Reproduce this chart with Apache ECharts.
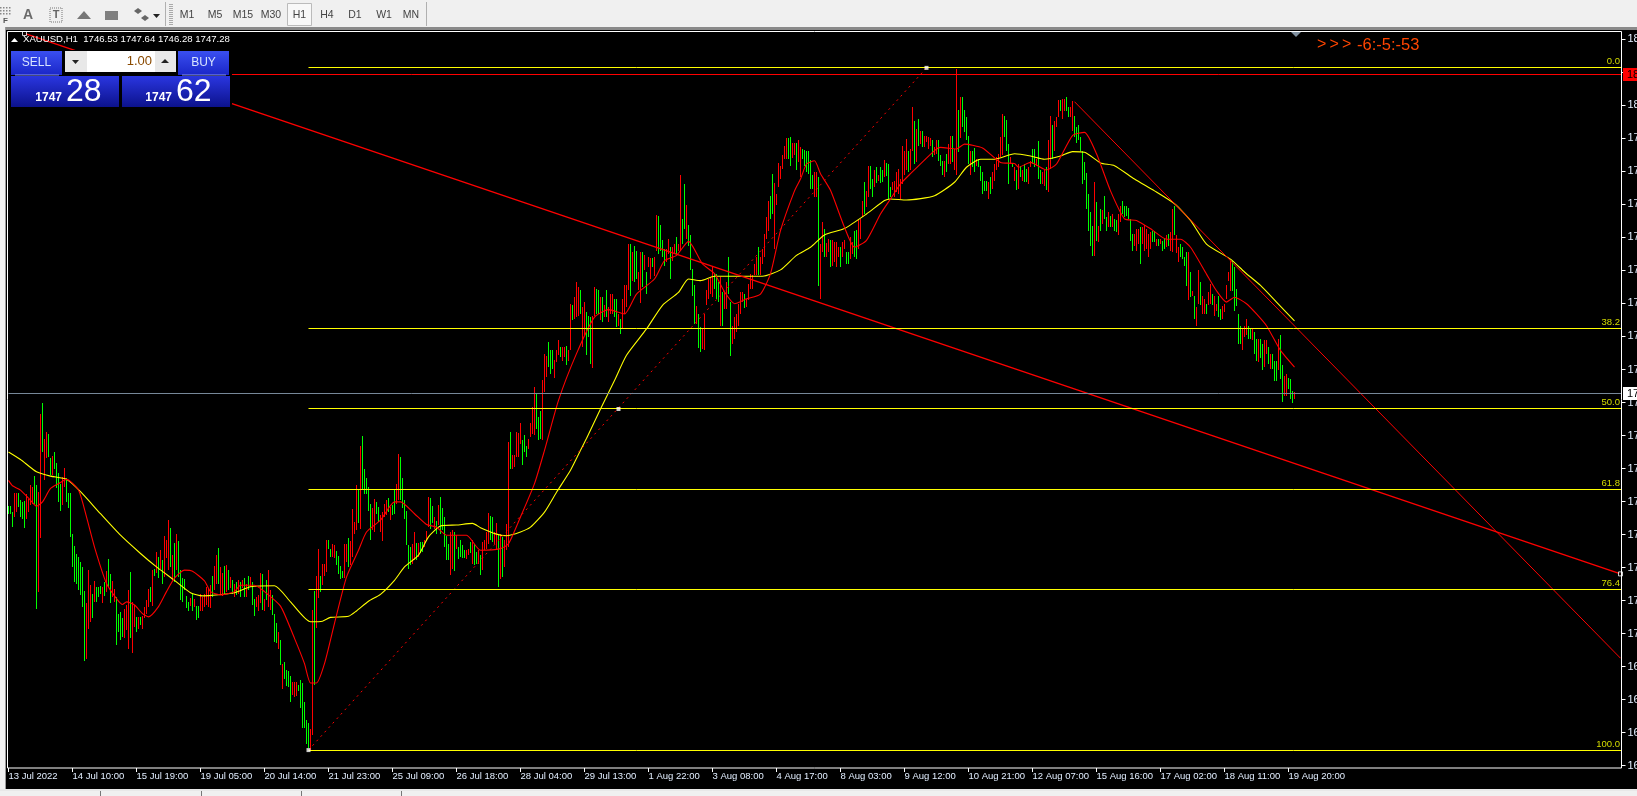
<!DOCTYPE html>
<html><head><meta charset="utf-8">
<style>html,body{margin:0;padding:0;background:#000;overflow:hidden}#c{width:1637px;height:796px}</style>
<script src="https://cdn.jsdelivr.net/npm/echarts@6/dist/echarts.min.js"></script>
</head><body><div id="c"></div>
<script>
const timeLabels=["13 Jul 2022","14 Jul 10:00","15 Jul 19:00","19 Jul 05:00","20 Jul 14:00","21 Jul 23:00","25 Jul 09:00","26 Jul 18:00","28 Jul 04:00","29 Jul 13:00","1 Aug 22:00","3 Aug 08:00","4 Aug 17:00","8 Aug 03:00","9 Aug 12:00","10 Aug 21:00","12 Aug 07:00","15 Aug 16:00","17 Aug 02:00","18 Aug 11:00","19 Aug 20:00"];
const priceTickLabels=["16","16","16","16","17","17","17","17","17","17","17","17","17","17","17","17","17","17","17","17","18","","18"];
const highs=[
1726.3,1726.3,1725.3,1728.7,1728.8,1728.8,1727.4,1727.1,1727.3,1728.5,
1727.7,1730.2,1729.8,1731.9,1730.3,1729,1743.4,1745.5,1738.9,1740.1,
1739.8,1735.2,1735.6,1736.3,1734.4,1732.4,1730.5,1731.8,1733.5,1731.5,
1728.7,1728.8,1721.2,1718.9,1717.4,1716.9,1715.9,1715,1710.5,1708.2,
1714.4,1711.6,1709.9,1712.4,1711.2,1711.3,1711.4,1711.3,1712.2,1714.2,
1716.4,1713.7,1712.4,1710.9,1709.4,1706.3,1706.6,1705.4,1707.1,1708,
1710.7,1714.1,1708.5,1707.9,1705.7,1705.6,1705.7,1705.8,1707.5,1708.9,
1710.9,1711.2,1714.4,1714.7,1717.7,1716.9,1718.2,1716.3,1720.7,1720,
1723.8,1722.2,1717.2,1719.5,1721.2,1719.8,1714.4,1712.9,1712.7,1709.6,
1708.5,1709.3,1710,1709.1,1707.7,1707.7,1709.9,1709.4,1709.9,1711.2,
1711,1711.6,1713.3,1715.2,1717.2,1718.6,1715,1713.8,1715.1,1715.3,
1714.4,1713.2,1712.5,1711.9,1712.2,1712.5,1712.2,1712.5,1712.9,1711.9,
1713.3,1713.2,1712.2,1709.1,1709.4,1709.7,1713.8,1713.7,1709.1,1712.5,
1714.4,1710.7,1709.7,1706.3,1704.5,1702.9,1701.4,1697,1697.3,1695.8,
1695.7,1694.7,1693.6,1693.6,1693.6,1693,1693.9,1693.3,1689.9,1686.5,
1686,1684.9,1707,1710.5,1713.3,1718.3,1713.4,1715.5,1715.6,1720,
1720.1,1718.3,1719.3,1719,1718,1717,1715.2,1714.3,1719.3,1719.3,
1720.3,1719.8,1725.7,1723.4,1730.2,1729.3,1737.5,1739.3,1733.2,1731.6,
1729.8,1726.7,1725.9,1727.6,1727.1,1726.2,1724.6,1725.2,1726.8,1727.5,
1727.9,1726.2,1726.5,1729.3,1730.4,1736.1,1735.5,1731.6,1727.4,1725.4,
1719,1718.7,1719.2,1721.5,1719.5,1719.5,1719.7,1719.7,1720,1721.7,
1728.1,1727.8,1726.3,1724.3,1723.6,1726.5,1728,1725.9,1724.3,1720.7,
1719.3,1721.5,1721.8,1721.5,1720.9,1718.7,1720.1,1719,1718.1,1718.1,
1718.4,1719.7,1720,1719.3,1717.8,1718.1,1717.2,1719.7,1720,1721.5,
1725.1,1724.4,1724.2,1721.5,1723.1,1721.2,1721.2,1720.6,1720,1722.9,
1738.3,1740.2,1735.9,1735.8,1740.1,1739.9,1741.7,1738.6,1739.5,1737.5,
1738.9,1741.8,1744.8,1748.4,1747.1,1742.9,1744.1,1749.8,1754.7,1754.2,
1756.8,1755.4,1755.3,1753.6,1755.4,1757.2,1755.9,1755.9,1755.9,1756.2,
1755.3,1764,1763.7,1765.2,1768,1767.1,1766.5,1763.4,1764.3,1762.4,
1761.8,1761.5,1761.8,1767.1,1766.8,1766.5,1765.2,1765.2,1763.7,1766.5,
1763.4,1765.8,1765.8,1764.9,1764.9,1762.1,1761.2,1764.9,1767.4,1767.4,
1775.1,1775.1,1773.6,1774.8,1773.9,1769.9,1773.6,1773.6,1773,1769.9,
1772.7,1772.5,1772.5,1772.7,1780.6,1780.3,1778.7,1775.8,1774.2,1774.2,
1776.1,1774.5,1774.5,1775.1,1776.4,1775.1,1788,1779.8,1786.3,1782.3,
1778.6,1776.7,1770.5,1767.4,1763.5,1762,1759.6,1759.3,1762.1,1766.5,
1768.6,1768.9,1770.8,1769.7,1769.6,1768,1768.9,1766.2,1766.2,1768,
1772.7,1764.3,1759.9,1761.5,1762.1,1764,1766.2,1766.2,1765.8,1764.9,
1767.7,1769.6,1769.3,1771.4,1772.7,1774.5,1772.7,1774.2,1777,1780.2,
1783.2,1784.1,1788.2,1786.4,1784.4,1790.1,1789.7,1791.6,1793.4,1794.9,
1794.9,1795,1794,1794,1794,1794.5,1793.2,1792.8,1792.6,1792.5,
1792.5,1790.8,1788,1788.5,1788.5,1787.5,1775.1,1779.2,1777.9,1775.3,
1776.1,1775.9,1775.8,1775.4,1775.4,1774.5,1774.5,1775.4,1775.8,1773.6,
1773.6,1776.4,1775.4,1777.6,1777.8,1779.5,1779.8,1783.2,1786.6,1784.9,
1789.7,1789.7,1787.2,1788.8,1789.5,1787.9,1789.4,1788.8,1790.8,1790.2,
1790,1785.7,1786.6,1786.9,1788.5,1789.1,1787.2,1793.4,1792.5,1794.7,
1792.5,1792.8,1800.6,1798.1,1796.5,1798.3,1796.2,1796.2,1795.3,1795.3,
1795,1794.9,1794.4,1793.1,1794.4,1794.4,1791.6,1790.5,1790.6,1791.9,
1793.7,1795.3,1795.3,1792.8,1807.7,1800,1802.4,1802.4,1800,1798.7,
1795.3,1792.5,1792.5,1792.9,1790.9,1790.9,1789.7,1788.5,1786.9,1786.9,
1786.7,1787.5,1788.5,1790,1791.3,1791.9,1795,1799.3,1799,1798.2,
1793.7,1791.3,1790,1789.4,1788.8,1790,1789.7,1788.8,1790,1789.1,
1789.4,1790.6,1792.8,1792.8,1790.9,1794.2,1788.8,1788.5,1788.8,1789.4,
1794.4,1798.9,1797.3,1798.1,1798.7,1801.9,1801.9,1802.1,1802.1,1802.4,
1800.7,1800.6,1801.8,1799,1796.8,1797.2,1795,1792.5,1790.3,1788.3,
1784.5,1781.1,1778.5,1786.6,1782.9,1778.5,1781.6,1781.4,1784.1,1780.2,
1781,1780.4,1780.7,1779.8,1779.6,1780.7,1782.2,1783.2,1782.2,1782.2,
1781.9,1779.8,1777,1777,1777.9,1777.9,1778.2,1778.2,1778.7,1777.9,
1777,1777.3,1777.6,1777.6,1776,1776,1776,1775.7,1776.2,1776.7,
1777,1777.3,1781.6,1782.2,1776.7,1774.5,1775.1,1774.5,1772.6,1773.6,
1773.6,1769.9,1766.4,1765.5,1763.3,1770.3,1768,1765.5,1764.9,1764,
1766.2,1767.7,1765.8,1765.5,1764,1765.5,1763,1763.6,1764,1767.4,
1769.9,1772,1772,1770.8,1766.7,1762.1,1759.9,1759.3,1759.9,1761.2,
1759.9,1759.3,1759.3,1758.7,1757.5,1757.5,1757.5,1756.5,1757.2,1757.2,
1755.9,1754.7,1754.7,1753.4,1753.4,1757.5,1758.1,1752.5,1750.5,1751,
1750.2,1750,1747.7,1747.5];
const lows=[
1724.8,1724.9,1722.5,1724.3,1725.3,1726.2,1724.3,1723.9,1722.3,1724,
1725.3,1726.5,1726.8,1726.8,1707.1,1710.4,1720.3,1736.3,1731.1,1735.2,
1735.4,1732.1,1732.1,1733.3,1729.6,1727.1,1725.4,1726.5,1729.9,1727.1,
1725.9,1720.6,1715,1712.2,1711.9,1710.7,1709.7,1707.6,1697.5,1697.8,
1703.4,1704.7,1705.4,1708.5,1708.5,1709.4,1709.9,1708.2,1709.6,1710.4,
1711.3,1708.2,1709.4,1708.5,1700.4,1702.9,1701.4,1702,1701.8,1703.2,
1699.8,1701.7,1699,1703.9,1702.9,1703.5,1704.2,1703.5,1705.4,1706.3,
1707.6,1708.5,1707.7,1713.3,1713.8,1712.9,1714.7,1711.9,1713.2,1716.6,
1714.4,1715,1712.5,1712.2,1714.4,1713.2,1708.8,1708.5,1710.7,1707.3,
1706.7,1707.7,1706.7,1707.5,1705.2,1705.4,1706.8,1706.7,1707.5,1707.9,
1707.5,1707.3,1709.4,1710.7,1711.9,1711.9,1709.7,1709.6,1709.9,1710.4,
1710.7,1711,1709.9,1709.4,1709.7,1710,1709.4,1711,1709.4,1709.4,
1710.7,1711.3,1707.9,1705.8,1707.6,1706.7,1708.2,1707,1706.7,1708.8,
1707.6,1707,1706,1701.1,1700.9,1699.8,1696.7,1692.2,1694.2,1692.9,
1692.7,1689.9,1691.1,1690.8,1690.9,1691.9,1688.7,1685,1685,1682.1,
1681.2,1680.9,1683.7,1693,1703.7,1709.2,1710.4,1711.6,1713.4,1714.1,
1718.4,1716.9,1716.9,1716.7,1715.3,1713.6,1712.8,1713,1713,1715.9,
1715,1715.3,1716.9,1721.2,1721.8,1723.1,1722.1,1729.3,1728.6,1728.5,
1725.5,1720.1,1721.8,1721.5,1724.9,1723.4,1721.5,1719.8,1724.3,1724.6,
1725.2,1723.7,1724.6,1724.9,1726.8,1727.4,1727.4,1725.9,1724,1719,
1714.7,1715.3,1715.6,1716.2,1716.2,1716.9,1717.5,1717.8,1718.7,1720,
1722.4,1722.1,1723.1,1722.1,1721.1,1722.8,1721.2,1721.8,1718.7,1716.2,
1716.2,1713.5,1714.7,1714.3,1718.4,1716.4,1716.9,1716.6,1716.7,1716.4,
1717.2,1717.5,1715.6,1715.3,1715.6,1715.6,1713.5,1714.4,1718.1,1718.4,
1719.3,1720,1719.7,1719.2,1718.1,1711.3,1712.7,1713.1,1715,1718.1,
1718.7,1733.3,1733.2,1733.6,1735.5,1735.5,1737.9,1733.9,1736.4,1735.5,
1737,1739.2,1739.8,1739.5,1740.7,1738.6,1738.9,1738.6,1747.5,1750.3,
1752.2,1751,1751.9,1750.2,1753.1,1754.4,1754.1,1753.4,1754.1,1752.5,
1753.4,1755.3,1760.9,1761.2,1761.5,1761.8,1762.1,1755.9,1758.1,1754.4,
1757.8,1752.8,1752.1,1761.8,1762.1,1762.1,1760.9,1760.6,1761.5,1761.5,
1760.6,1762.1,1762.1,1761.5,1759.6,1759.9,1758.4,1759.3,1762.1,1763.4,
1766.5,1765.5,1768.3,1768,1768.6,1766.5,1764.1,1767.1,1770.2,1765.8,
1770.8,1768.6,1770.8,1769.2,1773.9,1773.3,1773.9,1772.7,1771.1,1771.7,
1773.3,1768.6,1772,1773.3,1773.3,1773.9,1773.9,1775.1,1777.9,1776.1,
1774.8,1770.2,1765.4,1760.3,1760.3,1755.8,1755,1755.6,1755.3,1763.7,
1764.9,1765.8,1765.2,1766.8,1764.9,1764.3,1759.9,1759.9,1763.1,1763.1,
1765.8,1754.2,1756.5,1757.5,1758.7,1759.9,1762.1,1764.3,1763.2,1763.4,
1764.6,1766.8,1766.8,1769.3,1769.3,1769.3,1769.3,1771.4,1772.7,1776.1,
1777.6,1779.8,1780.7,1774.2,1782.3,1785.7,1787.2,1789.1,1791,1791,
1791,1789.7,1791.2,1791.6,1788.8,1790.3,1787.5,1790.9,1789.7,1788.5,
1788.2,1785.4,1785.4,1783.8,1783.8,1767.2,1764.8,1773.6,1772.7,1772.7,
1773.6,1770.8,1771.1,1771.7,1770.8,1772.7,1770.8,1772.7,1774.2,1771.4,
1771.4,1772.4,1773.3,1772.7,1772.4,1774.2,1776.1,1780.1,1780.7,1782,
1783.8,1785.4,1783.8,1785.7,1786.4,1786.9,1786.4,1786.6,1787.5,1787.8,
1783.5,1783.8,1785.1,1783.8,1784.8,1784.4,1783.5,1786.3,1787.9,1788.8,
1788.5,1788.8,1792.5,1790,1790.3,1793.4,1793.7,1793.1,1793.1,1794.1,
1792.8,1793.4,1791.3,1791.6,1791.9,1790.6,1789.7,1787.9,1787.5,1788.5,
1790,1790,1790.3,1788.8,1788,1792.2,1794.9,1796.8,1795.9,1794.4,
1790,1788,1789.4,1788.5,1789.7,1789.4,1786.9,1784.4,1784.9,1784.9,
1783.5,1784.4,1785.4,1786.9,1788.8,1789.4,1791.3,1791.6,1795,1792.5,
1786.2,1790,1789.4,1786.9,1785.1,1785.4,1787.5,1786.9,1786.6,1786.6,
1786.3,1789.4,1790,1789.4,1789.7,1787.2,1786.2,1786.3,1786,1785.1,
1784.8,1789.1,1791,1792.5,1796.8,1798.7,1799.9,1798.4,1799.9,1799.9,
1798.7,1798.7,1796.2,1795,1794,1794.4,1792.5,1786.3,1787,1781.6,
1777.6,1774.8,1772.8,1772.9,1775.7,1775.4,1777.6,1778.8,1779.8,1777.6,
1778.2,1778.2,1778.2,1777.6,1777.3,1776.7,1779.2,1780.7,1780.1,1780.4,
1779.8,1775.7,1773.9,1774.8,1773.8,1775.1,1771.4,1775.1,1773.9,1774.2,
1772.6,1774.2,1775.4,1775.4,1774.8,1774.8,1775.1,1773.8,1774.2,1774.5,
1774.8,1773.9,1773.6,1776.7,1773.4,1771.7,1772.6,1772.3,1771.1,1767.2,
1764.6,1765.2,1765.5,1761.2,1759.8,1764,1763.7,1762.1,1762.1,1762.1,
1763.7,1764,1763.7,1761.8,1762.7,1761.5,1760.9,1761.2,1762.4,1764.9,
1768.3,1766.4,1766.4,1762.7,1763.5,1756.5,1756.5,1755.3,1757.8,1758.1,
1757.5,1757.5,1757.2,1754.7,1753.4,1753.1,1753.8,1751.6,1752.2,1754.7,
1752.8,1751.9,1751.9,1749.7,1749.7,1751.6,1750,1745.7,1746.9,1746.9,
1748.2,1746.3,1745.6,1746.3];
const barDirs="gggrrggggr"+"rrrggrrgrr"+"ggrggggrrg"+"gggggggggr"+"rrgrgggrgr"+"ggrrggggrr"+"rgrrgrgrrr"+"rgrgrgrgrr"+"rgrgrggggg"+"grgrggrrrr"+
"rrgrrgrrgr"+"grgrgrgrgr"+"grggrrrgrg"+"rrgggrgrgg"+"ggrrrggggg"+"grrgrrgrrr"+"ggrrggggrr"+"grrrrgrggg"+"ggrrggrrrr"+"grggrrgggg"+
"ggrrgrggrr"+"rggrgrgggg"+"grrgrggggr"+"rgrggrgrrr"+"rggrrgrgrr"+"rgrrrrrggg"+"rrrrgggrrr"+"gggrrrgrrg"+"rrgrrrgrrg"+"ggrrggrgrg"+
"rrrggrgrrr"+"rgrggrrgrg"+"rrgrrggggr"+"rgrrgrrggr"+"ggggrggrrr"+"rrrgggrgrr"+"ggrrrrrrgr"+"rrrrrgrrrr"+"rggrrrrrrr"+"ggrrgrrggg"+
"gggrrgrrgr"+"rgrrrrgrrg"+"grrggrrrgr"+"rggrgrggrg"+"ggrrrrrrrr"+"grrgrgrgrr"+"rrgrrgggrg"+"rrgrrgrggg"+"grggrggggg"+"rgrrrrrrgg"+
"grgrgrgrgg"+"rrggrggrrg"+"rrgrrrgrrg"+"grrggggggg"+"gggrgrgrgg"+"rgrggrrggg"+"gggrrrgrrr"+"rrggrgrggr"+"grrgrrgggg"+"rgrgrrgrrg"+
"rrgrrggrrr"+"rrgggggrrr"+"ggrggrggrr"+"grgggrggrr"+"gggr";
const slowMA=[[0,1736.4],[6,1735],[14,1732.7],[21,1731.9],[29,1731.3],[36,1729],[46,1724.9],[56,1720.9],[66,1717.5],[74,1715],[83,1712.5],[91,1710.2],[97,1709.6],[113,1710.2],[121,1711.3],[133,1711.5],[141,1708.5],[151,1704.8],[157,1704.9],[161,1705.6],[170,1705.8],[174,1706.8],[180,1708.6],[186,1709.9],[193,1712.5],[198,1715],[205,1717.2],[210,1720.6],[216,1722.6],[224,1722.8],[232,1723.1],[236,1722.3],[244,1721.1],[249,1720.8],[256,1721.5],[261,1722.4],[268,1725.2],[274,1728.9],[281,1733],[286,1736.7],[289,1738.9],[296,1744.4],[303,1749.7],[309,1754.4],[319,1759.3],[327,1763.7],[335,1766.1],[340,1768.6],[346,1768.3],[353,1769.1],[366,1769.1],[377,1769.1],[386,1770.3],[394,1773],[401,1774.5],[408,1776.8],[418,1778],[429,1780.7],[438,1783.2],[441,1783.5],[449,1783.3],[463,1784.1],[473,1786.6],[479,1789.4],[486,1790.9],[493,1790.9],[503,1791.9],[511,1791.5],[518,1790.9],[526,1791.5],[532,1792.3],[538,1792.2],[546,1790.2],[553,1789.7],[563,1787.2],[573,1785],[583,1782.6],[591,1779.5],[599,1775.1],[611,1772.3],[618,1769.9],[626,1767.4],[634,1764.3],[643,1760.8]];
const fastMA=[[0,1731.1],[2,1730.1],[6,1729.3],[11,1727.4],[14,1726.3],[17,1727.1],[21,1729.6],[25,1730.5],[29,1731.3],[35,1729.3],[39,1724.3],[43,1718.7],[49,1711.9],[54,1709.1],[57,1708],[59,1708.5],[63,1707.9],[67,1706.3],[70,1705.7],[75,1707.6],[79,1710.4],[83,1712.9],[88,1714.4],[92,1714.2],[98,1712.4],[101,1710.4],[106,1709.8],[113,1710.4],[116,1711.6],[123,1711.6],[128,1710.4],[136,1707.7],[143,1701.7],[148,1697],[151,1693.4],[154,1693.4],[158,1697],[163,1704.5],[169,1713.1],[175,1718.1],[179,1721.5],[186,1723.7],[193,1727.1],[196,1727.1],[203,1724.9],[209,1722.9],[214,1722.4],[219,1720.9],[229,1720.9],[236,1718.1],[246,1718.4],[250,1719.3],[256,1724.3],[263,1730.5],[268,1736.7],[275,1746],[284,1754.7],[293,1761.5],[300,1762.9],[308,1762.1],[314,1765.8],[323,1768.6],[328,1772],[334,1773],[340,1775.6],[347,1771.4],[353,1769.6],[358,1766.2],[363,1764],[369,1764.9],[376,1765.8],[381,1769.6],[386,1777.6],[393,1785],[396,1787.2],[399,1790],[403,1790.6],[406,1788.2],[411,1785.1],[418,1778.2],[423,1774.5],[429,1775.8],[436,1780.7],[441,1783.5],[446,1786.3],[451,1788.2],[463,1792.5],[466,1793.1],[474,1792.8],[478,1793.7],[487,1793],[496,1790.3],[503,1790.1],[505,1789.4],[511,1790.3],[519,1788.9],[524,1790],[532,1795.3],[538,1795.9],[544,1791.9],[551,1785],[558,1779.8],[564,1779.5],[572,1777.7],[579,1776],[586,1776],[591,1774.5],[599,1769.5],[604,1766.4],[609,1764.3],[613,1765.2],[619,1764],[624,1762.1],[629,1759.9],[636,1755.3],[643,1752.2]];
const trendA=[[8,1814.3],[806,1713.7]];
const trendB=[[533,1801.6],[806,1698]];
const fibDiagonal=[[150,1680.9],[459,1807.9]];
const fibStart=150, axisEnd=806;
const fibNames=["0.0","38.2","50.0","61.8","76.4","100.0"];
const fibPrices=[1807.9,1759.4,1744.4,1729.4,1710.8,1680.9];
const highLinePrice=1806.6, bidPrice=1747.28;

const interval=6.1465, yMin=interval*273, yMax=interval*295;
const nSlots=807;
const categories=[];for(let i=0;i<nSlots;i++)categories.push(i%32===0&&timeLabels[i/32]?timeLabels[i/32]:"");
const labelled=i=>i%32===0&&i/32<timeLabels.length;
const FONT="Liberation Sans";
const barData=highs.map((h,i)=>[i,h,lows[i],barDirs[i]==="g"?1:0]);
const snap=v=>Math.floor(v)+0.5;

function barItem(p,api){
  const a=api.coord([api.value(0),api.value(1)]),b=api.coord([api.value(0),api.value(2)]);
  const x=snap(a[0]);
  return {type:"line",silent:true,shape:{x1:x,y1:Math.round(a[1]),x2:x,y2:Math.round(b[1])},style:{stroke:api.value(3)?"#00ff00":"#ff0000",lineWidth:1}};
}
function hItem(color,withText){return function(p,api){
  const a=api.coord([api.value(0),api.value(2)]),b=api.coord([api.value(1),api.value(2)]);
  const y=snap(a[1]);
  const kids=[{type:"line",silent:true,shape:{x1:a[0],y1:y,x2:b[0]+1,y2:y},style:{stroke:color,lineWidth:1}}];
  if(withText)kids.push({type:"text",silent:true,style:{x:b[0]-0.5,y:y-1.5,text:fibNames[p.dataIndex],fill:"#d4dc00",font:"9.5px '"+FONT+"'",textAlign:"right",textVerticalAlign:"bottom"}});
  return {type:"group",children:kids};
};}
const lineSeries=(data,color,w,smooth)=>({type:"line",data,symbol:"none",smooth:smooth||false,clip:false,silent:true,animation:false,lineStyle:{color,width:w||1},z:3});

const G=[];
function rect(x,y,w,h,fill,extra){G.push(Object.assign({type:"rect",silent:true,z:100,shape:{x,y,width:w,height:h},style:{fill}},extra||{}));}
function txt(x,y,t,fill,font,align,z){G.push({type:"text",silent:true,z:z||101,x,y,style:{text:t,fill,font,textAlign:align||"left",textVerticalAlign:"middle"}});}
function poly(pts,fill){G.push({type:"polygon",silent:true,z:101,shape:{points:pts},style:{fill}});}
const grad=(c1,c2)=>new echarts.graphic.LinearGradient(0,0,0,1,[{offset:0,color:c1},{offset:1,color:c2}]);

// window chrome
rect(0,0,1637,27,"#f0f0f0");
rect(0,27,1637,3,"#8a8a8a");
rect(0,30,1637,1,"#000");
rect(0,27,5,763,"#f0f0f0");
rect(5,27,1,763,"#9a9a9a");
rect(7.5,31.5,1614,736.5,"none",{z:50,style:{fill:"none",stroke:"#fff",lineWidth:1}});
rect(0,789,1637,2,"#e8e8e8");
rect(0,791,1637,5,"#f0f0f0");
[100,201,301,401].forEach(x=>rect(x,791,1,5,"#777"));
// toolbar
for(let r=0;r<3;r++)for(let c=0;c<4;c++)rect(0+c*3,7+r*3,1.5,1.5,"#888");
txt(3,21,"F","#555","bold 8px '"+FONT+"'");
txt(28,15,"A","#6a6a6a","bold 14px '"+FONT+"'","center");
rect(50,8,12,14,"none",{style:{fill:"none",stroke:"#777",lineWidth:1,lineDash:[1,1]}});
txt(56,15,"T","#666","bold 11px '"+FONT+"'","center");
poly([[77,19],[91,19],[84,11]],"#777");
rect(105,11,13,9,"#808080");
poly([[134,11],[138,8],[142,11],[138,14]],"#666");
poly([[141,18],[145,15],[149,18],[145,21]],"#666");
poly([[153,14],[160,14],[156.5,18]],"#222");
rect(165,2,1,24,"#b0b0b0");
for(let r=0;r<11;r++)rect(169,4+r*2,4,1,"#aaa");
rect(287.5,3.5,24,22,"#f8f8f8",{style:{fill:"#f8f8f8",stroke:"#bbb",lineWidth:1}});
[["M1",187],["M5",215],["M15",243],["M30",271],["H1",299.5],["H4",327],["D1",355],["W1",384],["MN",411]].forEach(a=>txt(a[1],15.5,a[0],"#444","10.5px '"+FONT+"'","center"));
rect(426,2,1,24,"#b0b0b0");
// header text
poly([[11,42],[18,42],[14.5,38]],"#fff");
txt(23,39.5,"XAUUSD,H1  1746.53 1747.64 1746.28 1747.28","#fff","9.6px '"+FONT+"'");
// trading panel
rect(8,50,224,58,"#000");
rect(11,51,51,24,grad("#3a4ff0","#1a26c8"));
rect(15,74.5,44,1,"#8a96f0");
txt(36.5,62.5,"SELL","#d8e4ff","12px '"+FONT+"'","center");
rect(65,51,22,21,"#e8e8e8");rect(87,51,68,21,"#fff");rect(155,51,21,21,"#e8e8e8");
poly([[72,60],[79,60],[75.5,64]],"#222");poly([[161,63],[169,63],[165,59]],"#222");
txt(152,61.5,"1.00","#8a4a00","13px '"+FONT+"'","right");
rect(178,51,51,24,grad("#3a4ff0","#1a26c8"));
rect(182,74.5,44,1,"#8a96f0");
txt(203.5,62.5,"BUY","#d8e4ff","12px '"+FONT+"'","center");
rect(11,76,108,31,grad("#2a36e0","#0c128c"));
rect(122,76,108,31,grad("#2a36e0","#0c128c"));
txt(62,98,"1747","#fff","bold 12px '"+FONT+"'","right");
txt(66,92,"28","#fff","32px '"+FONT+"'");
txt(172,98,"1747","#fff","bold 12px '"+FONT+"'","right");
txt(176,92,"62","#fff","32px '"+FONT+"'");
// countdown and marker
poly([[1291,32],[1301,32],[1296,37]],"#8090a0");
[1317,1329.5,1342].forEach(x=>txt(x,45,">","#ff4500","16px '"+FONT+"'"));
txt(1357,45,"-6:-5:-53","#ff4500","16.5px '"+FONT+"'");
// price tags on the right
rect(1623,68,14,13,"#ff0000");
txt(1627,74.5,"18","#000","11px '"+FONT+"'");
rect(1623,387,14,13,"#fff");
txt(1627,393.5,"17","#000","11px '"+FONT+"'");

const chart=echarts.init(document.getElementById("c"),null,{renderer:"canvas",devicePixelRatio:1});
chart.setOption({
  animation:false,backgroundColor:"#000",
  grid:{left:7.5,width:1614,top:39.3,height:726.4,containLabel:false,outerBoundsMode:"none"},
  xAxis:{type:"category",data:categories,boundaryGap:true,offset:2.3,
    axisLine:{show:false},
    axisTick:{show:true,alignWithLabel:true,interval:labelled,length:4,lineStyle:{color:"#fff",width:1}},
    axisLabel:{show:true,interval:labelled,color:"#e2eeff",fontFamily:FONT,fontSize:9.5,align:"left",margin:3.5,hideOverlap:false},
    splitLine:{show:false}},
  yAxis:{type:"value",position:"right",min:yMin,max:yMax,interval:interval,scale:true,
    axisLine:{show:false},
    axisTick:{show:true,length:4,lineStyle:{color:"#fff"}},
    axisLabel:{show:true,color:"#e2eeff",fontFamily:FONT,fontSize:11,margin:6,
      formatter:v=>priceTickLabels[Math.round((v-yMin)/interval)]||""},
    splitLine:{show:false}},
  series:[
    {type:"custom",name:"bars",renderItem:barItem,data:barData,encode:{x:0,y:[1,2]},clip:false,silent:true,z:2},
    {type:"custom",name:"fib",renderItem:hItem("#ffff00",true),data:fibPrices.map(p=>[fibStart,axisEnd,p]),encode:{x:[0,1],y:2},clip:false,silent:true,z:4},
    {type:"custom",name:"high",renderItem:hItem("#ff0000",false),data:[[0,axisEnd,highLinePrice]],encode:{x:[0,1],y:2},clip:false,silent:true,z:4},
    {type:"custom",name:"bid",renderItem:hItem("#778899",false),data:[[0,axisEnd,bidPrice]],encode:{x:[0,1],y:2},clip:false,silent:true,z:4},
    lineSeries(slowMA,"#ffff00",1.1,0.2),
    lineSeries(fastMA,"#ff0000",1.1,0.2),
    lineSeries(trendA,"#ff0000",1.3),
    lineSeries(trendB,"#ff0000",1),
    Object.assign(lineSeries(fibDiagonal,"#ff0000",1),{lineStyle:{color:"#ff0000",width:1,type:[2,4]}}),
    {type:"scatter",data:[fibDiagonal[0],[304.5,1744.4],fibDiagonal[1]],symbol:"rect",symbolSize:4,itemStyle:{color:"#fff"},clip:false,silent:true,z:6},
    {type:"scatter",data:[trendA[0],trendA[1]],symbol:"rect",symbolSize:4,itemStyle:{color:"#000",borderColor:"#fff",borderWidth:1},clip:false,silent:true,z:6}
  ],
  graphic:{elements:G}
});
</script></body></html>
